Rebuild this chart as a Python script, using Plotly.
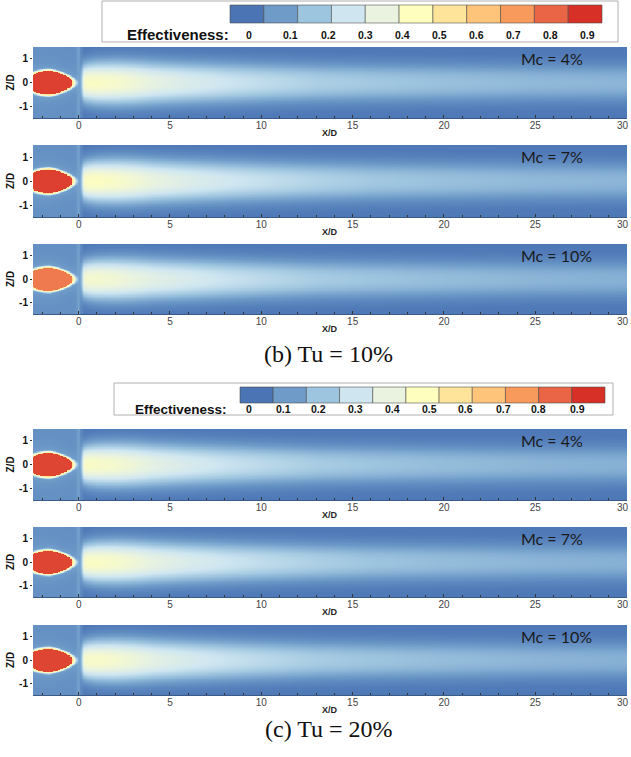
import numpy as np
import plotly.graph_objects as go

W, H = 631, 757

# ---------------- data ----------------
panel_labels = ["Mc = 4%", "Mc = 7%", "Mc = 10%", "Mc = 4%", "Mc = 7%", "Mc = 10%"]
group_captions = ["(b) Tu = 10%", "(c) Tu = 20%"]

# streamwise stations (X/D) where centreline effectiveness / jet width were read
x_stations = [0.1, 0.5, 1, 2, 3, 4, 6, 8, 10, 13, 16, 20, 25, 30]
centerline_eta = [
    [0.44, 0.48, 0.48, 0.46, 0.43, 0.39, 0.34, 0.30, 0.27, 0.23, 0.21, 0.19, 0.17, 0.16],
    [0.45, 0.49, 0.49, 0.47, 0.44, 0.40, 0.35, 0.31, 0.28, 0.24, 0.21, 0.19, 0.17, 0.16],
    [0.41, 0.45, 0.45, 0.43, 0.40, 0.37, 0.33, 0.29, 0.26, 0.22, 0.20, 0.18, 0.16, 0.15],
    [0.44, 0.48, 0.47, 0.45, 0.42, 0.38, 0.33, 0.29, 0.26, 0.22, 0.20, 0.18, 0.16, 0.15],
    [0.44, 0.48, 0.48, 0.46, 0.43, 0.39, 0.34, 0.30, 0.27, 0.23, 0.20, 0.18, 0.16, 0.15],
    [0.43, 0.47, 0.47, 0.45, 0.42, 0.38, 0.33, 0.29, 0.26, 0.22, 0.20, 0.18, 0.16, 0.15],
]
jet_halfwidth = [0.72, 0.80, 0.85, 0.88, 0.88, 0.86, 0.84, 0.82, 0.80, 0.78, 0.77, 0.76, 0.75, 0.75]
hole_eta = [0.97, 0.97, 0.86, 0.96, 0.96, 0.96]
edge_eta = 0.01          # far-field effectiveness downstream
upstream_eta = 0.07      # far-field effectiveness upstream of the trench
hole_center_x, hole_semi_x, hole_semi_z = -1.6, 1.25, 0.5

legend_levels = [0, 0.1, 0.2, 0.3, 0.4, 0.5, 0.6, 0.7, 0.8, 0.9]
legend_colors = ['#4a74b4', '#6f9bc9', '#9ec5df', '#cfe6f1', '#e9f3df', '#fefebf',
                 '#fde49a', '#fdc47a', '#f99a5d', '#ea6446', '#d73027']
x_ticks = [0, 5, 10, 15, 20, 25, 30]
z_ticks = [-1, 0, 1]

# ---------------- field construction ----------------
x_grid = np.concatenate([np.arange(-2.5, 0.5, 0.04), np.arange(0.5, 3.0, 0.1), np.arange(3.0, 30.001, 0.5)])
z_grid = np.arange(-1.5, 1.5001, 0.025)
X, Z = np.meshgrid(x_grid, z_grid)


def build_field(k):
    c = np.interp(X, x_stations, centerline_eta[k])
    w = np.interp(X, x_stations, jet_halfwidth)
    ramp = np.clip((X - 0.02) / 0.3, 0, 1)
    ramp = ramp * ramp * (3 - 2 * ramp)
    base = upstream_eta + (edge_eta - upstream_eta) * np.clip(X / 0.3, 0, 1)
    field = base + (c - edge_eta) * np.exp(-np.abs(Z / w) ** 2.4) * ramp
    # faint light trench-edge stripe at X/D = 0
    field = field + 0.045 * np.exp(-((X + 0.03) / 0.1) ** 2)
    # coolant hole
    u = (X - hole_center_x) / hole_semi_x
    az = hole_semi_z * (1 - 0.25 * np.clip(u, 0, 1))
    r = np.sqrt(u ** 2 + (Z / az) ** 2)
    dist = np.clip((r - 1) * hole_semi_z, 0, None)
    halo = field + (0.6 - field) * np.exp(-(dist / 0.08) ** 2)
    halo2 = field + (0.13 - field) * np.exp(-dist / 0.25)
    field = np.where(r < 1, hole_eta[k], np.maximum(np.maximum(field, halo), halo2))
    return np.round(field, 3)


# ---------------- layout helpers ----------------
def px(x):
    return x / W


def py(y):
    return 1 - y / H


panels = [(47, 118), (145, 217), (244, 314), (429, 500), (527, 597), (625, 695)]
x_left, x_right = 33, 627

cscale = [[i / 10, col] for i, col in enumerate(legend_colors)]

fig = go.Figure()
annotations = []
shapes = []


def note(x, y, text, size, family="Liberation Sans", color="#111", xanchor="center", **kw):
    annotations.append(dict(x=px(x), y=py(y), xref="paper", yref="paper", text=text,
                            showarrow=False, xanchor=xanchor, yanchor="middle",
                            font=dict(family=family, size=size, color=color), **kw))


for k, (top, bot) in enumerate(panels):
    n = k + 1
    xa = "x" if n == 1 else f"x{n}"
    ya = "y" if n == 1 else f"y{n}"
    fig.add_trace(go.Heatmap(
        x=x_grid, y=z_grid, z=build_field(k), xaxis=xa, yaxis=ya,
        colorscale=cscale, zmin=0, zmax=1, zsmooth="best",
        showscale=False, hoverinfo="skip"))
    fig.layout[f"xaxis{'' if n == 1 else n}"] = dict(
        domain=[px(x_left), px(x_right)], anchor=ya, range=[-2.5, 30.02],
        tickvals=x_ticks, ticks="inside", ticklen=3, tickcolor="#333",
        minor=dict(dtick=1, ticks="inside", ticklen=2, tickcolor="#333"),
        tickfont=dict(family="Liberation Sans", size=10, color="#444"),
        ticklabelstandoff=-2,
        showgrid=False, zeroline=False, showline=True, linecolor="#3a5a88", linewidth=1)
    fig.layout[f"yaxis{'' if n == 1 else n}"] = dict(
        domain=[py(bot), py(top)], anchor=xa, range=[-1.5, 1.5],
        tickvals=z_ticks, ticktext=[f"<b>{v}</b>" for v in z_ticks],
        ticks="outside", ticklen=2, tickcolor="#333",
        tickfont=dict(family="Liberation Sans", size=10, color="#111"),
        showgrid=False, zeroline=False)
    note(519, top + 11, panel_labels[k], 16, family="Lato", color="#1a1a1a", xanchor="left")
    note(10, (top + bot) / 2, "<b>Z/D</b>", 10, textangle=-90)
    note(330, bot + 15, "<b>X/D</b>", 9, color="#222")
    # last tick label sits at the figure edge (hidden by the axis), so write it as text
    note(631, bot + 7, str(x_ticks[-1]), 10, color="#444", xanchor="right")


def add_legend(box, cells, label_xs, label_y, eff_right, eff_size):
    bx0, by0, bx1, by1 = box
    shapes.append(dict(type="rect", xref="paper", yref="paper", x0=px(bx0), x1=px(bx1),
                       y0=py(by1), y1=py(by0), line=dict(color="#b0b0b0", width=1),
                       fillcolor="white", layer="below"))
    cx0, cy0, cx1, cy1 = cells
    nc = len(legend_colors)
    cw = (cx1 - cx0) / nc
    for i, col in enumerate(legend_colors):
        shapes.append(dict(type="rect", xref="paper", yref="paper",
                           x0=px(cx0 + i * cw), x1=px(cx0 + (i + 1) * cw),
                           y0=py(cy1), y1=py(cy0), fillcolor=col,
                           line=dict(color="rgba(70,70,70,0.55)", width=1)))
    for lx, lv in zip(label_xs, legend_levels):
        note(lx, label_y, f"<b>{lv:g}</b>", 10.5)
    note(eff_right, label_y, "<b>Effectiveness:</b>", eff_size, xanchor="right")


add_legend((102, 1, 618, 42), (230, 5, 602, 23),
           [249, 290, 328, 365, 402, 439, 476, 513, 550, 587], 35, 231, 15)
add_legend((114, 383, 613, 415), (240, 387, 605, 403),
           [249, 283, 318, 356, 392, 429, 465, 503, 538, 577], 409, 229, 13.5)

for cap, ycap in zip(group_captions, [354, 729]):
    note(329, ycap, cap, 24, family="Liberation Serif")

fig.update_layout(width=W, height=H, margin=dict(l=0, r=0, t=0, b=0),
                  paper_bgcolor="white", plot_bgcolor="white",
                  annotations=annotations, shapes=shapes, showlegend=False)

fig.write_html("out.html")
